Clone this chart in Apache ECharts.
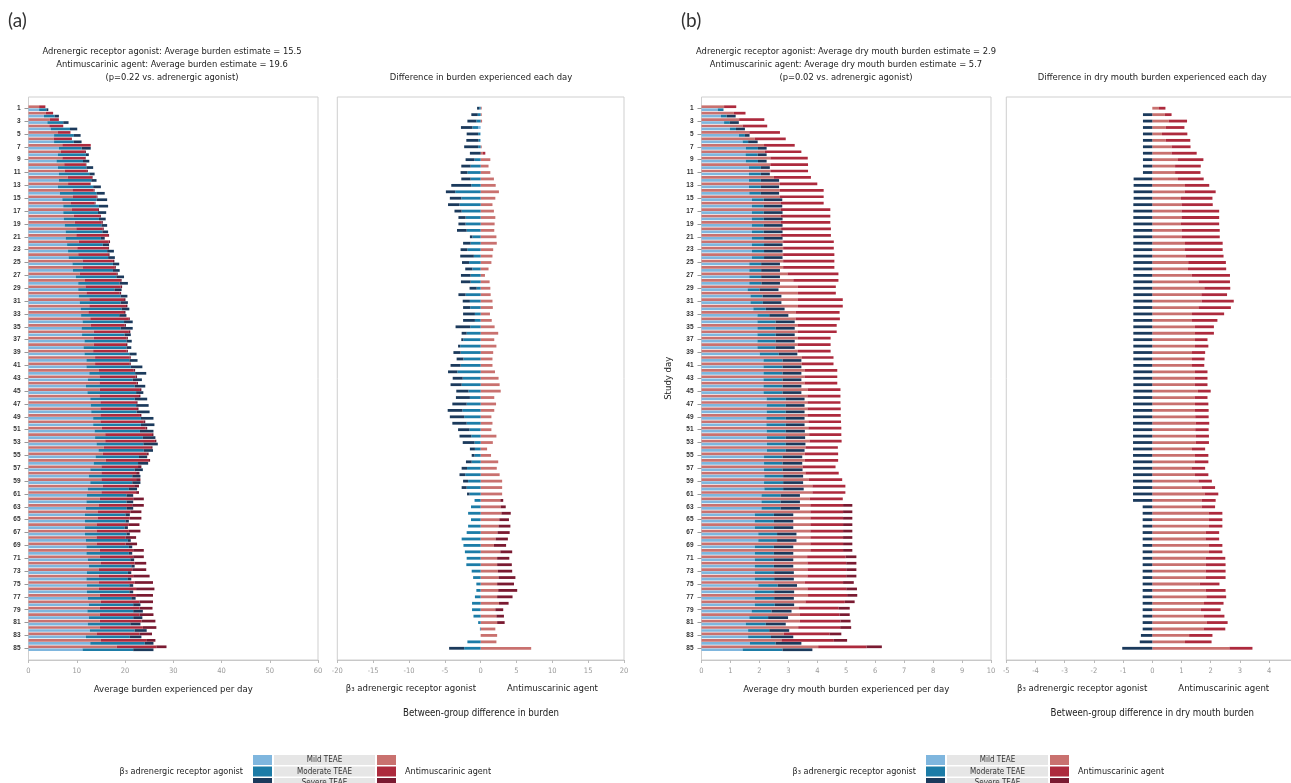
<!DOCTYPE html>
<html>
<head>
<meta charset="utf-8">
<script src="https://cdn.jsdelivr.net/npm/echarts@6/dist/echarts.min.js"></script>
<style>
html, body { margin: 0; padding: 0; background: #fff; }
#main { width: 1291px; height: 783px; }
</style>
</head>
<body>
<div id="main"></div>
<script type="text/javascript">
// study days (y categories)
var days = ['1','2','3','4','5','6','7','8','9','10','11','12','13','14','15','16','17','18','19','20',
  '21','22','23','24','25','26','27','28','29','30','31','32','33','34','35','36','37','38','39','40',
  '41','42','43','44','45','46','47','48','49','50','51','52','53','54','55','56','57','58','59','60',
  '61','62','63','64','65','66','67','68','69','70','71','72','73','74','75','76','77','78','79','80',
  '81','82','83','84','85'];

// (a) average burden per day - cumulative ends of mild / moderate / severe
var aRedMildEnd = [2.2,3.6,4.4,4.3,6.1,5.2,7.0,6.7,7.0,7.4, 7.5,8.1,8.2,9.1,9.2,8.8,9.0,9.4,9.6,9.9,
  9.9,10.4,10.1,10.3,11.2,11.3,10.6,11.7,11.8,12.0, 12.6,12.6,12.4,12.8,12.9,13.5,13.5,13.5,13.4,13.8,
  13.8,14.6,14.7,14.7,14.8,14.7,14.9,14.9,14.9,14.9, 15.2,15.9,15.9,15.6,15.4,16.0,15.1,15.1,15.1,15.4,
  15.1,14.8,14.6,14.4,14.3,14.1,14.1,14.1,14.1,14.8, 14.8,15.0,14.6,14.6,14.6,14.6,14.8,15.0,14.8,14.8,
  14.8,14.8,14.1,15.0,18.3];
var aRedModEnd = [3.5,5.1,6.3,7.2,8.7,9.0,12.9,11.7,11.8,11.9, 12.1,13.2,12.8,13.5,14.1,13.7,14.4,14.8,15.1,15.4,
  16.5,16.6,16.5,16.5,17.5,17.9,18.2,19.0,19.1,18.9, 19.8,20.2,19.8,20.8,19.9,20.8,20.3,20.2,20.3,20.9,
  20.9,21.8,22.2,22.4,23.1,22.9,22.3,22.5,23.1,23.9, 24.3,25.6,26.2,25.4,24.4,24.8,22.7,22.3,22.3,21.9,
  22.3,21.7,21.5,21.1,21.0,20.8,20.8,20.1,20.1,21.7, 21.7,22.0,21.5,21.7,22.0,22.3,22.3,23.0,23.0,23.0,
  23.4,23.7,23.0,24.4,26.5];
var aRedSevEnd = [3.5,5.1,6.3,7.2,8.7,9.0,12.9,11.9,11.9,12.0, 12.3,13.3,12.9,13.7,14.3,13.9,14.6,15.0,15.4,15.6,
  16.7,16.9,16.7,16.8,17.8,18.1,18.5,19.3,19.4,19.2, 20.1,20.5,20.1,21.0,20.2,21.1,20.6,20.5,20.6,21.2,
  21.2,22.1,22.5,22.7,23.4,23.2,22.6,22.8,23.4,24.2, 24.6,25.9,26.5,25.7,24.9,25.2,23.4,23.0,23.2,22.9,
  22.9,23.9,23.9,23.4,23.4,23.0,23.2,22.3,22.5,23.9, 23.9,24.4,24.4,25.1,25.8,26.1,25.8,25.8,25.7,25.9,
  26.3,26.5,25.6,26.3,28.6];
var aBlueMildEnd = [2.2,3.2,3.9,4.6,5.3,5.3,6.3,6.1,5.8,6.1, 6.3,6.3,6.1,6.5,7.0,7.2,7.2,7.3,7.5,7.7,
  7.7,8.0,8.2,8.3,9.1,9.2,9.8,10.3,10.3,10.4, 10.6,10.8,10.9,11.2,11.0,11.1,11.6,11.4,11.6,12.0,
  12.0,12.6,12.3,11.9,12.2,12.8,12.9,13.0,13.4,13.4, 13.7,13.8,14.1,14.5,13.9,13.5,12.8,12.5,12.8,12.3,
  12.1,12.0,11.9,11.7,11.7,11.7,11.7,11.9,12.0,12.0, 12.3,12.5,12.1,12.0,12.1,12.1,12.3,12.5,12.2,12.5,
  12.3,12.7,11.9,12.8,11.2];
var aBlueModEnd = [3.7,5.4,7.2,8.6,9.4,9.4,11.0,11.9,11.3,12.0, 12.6,13.0,13.4,14.1,14.1,14.6,14.4,14.6,15.1,15.3,
  15.0,15.4,16.3,16.5,17.5,17.5,18.2,18.9,17.8,19.1, 19.1,19.3,18.8,19.8,19.1,19.9,20.3,20.3,20.9,20.9,
  21.2,22.1,21.6,22.0,22.3,22.0,22.3,22.4,23.3,23.3, 23.1,23.7,23.8,23.9,22.9,22.7,22.0,21.5,21.5,20.8,
  20.3,20.3,20.3,20.1,20.1,19.9,20.3,20.6,20.8,20.8, 21.1,21.3,20.6,20.6,20.9,20.9,21.3,21.7,21.7,21.7,
  21.1,22.0,21.0,24.1,21.7];
var aBlueSevEnd = [4.1,6.3,8.3,10.1,10.8,11.0,12.9,12.5,12.6,13.4, 13.7,14.1,15.0,15.8,16.3,16.5,16.1,16.0,16.3,16.5,
  15.8,16.7,17.7,17.9,18.8,18.9,19.8,20.6,19.3,20.5, 20.6,20.9,20.3,21.6,21.6,21.2,21.4,21.3,22.4,22.6,
  23.6,24.4,23.5,24.2,23.8,24.6,24.9,25.1,25.9,26.1, 25.9,26.3,26.8,25.8,24.6,24.8,23.7,23.2,23.2,22.5,
  21.7,21.7,21.7,21.0,20.8,20.6,21.0,21.2,21.5,21.5, 21.9,22.0,21.3,21.3,21.7,21.7,22.2,23.2,23.7,23.6,
  23.2,24.5,23.4,25.9,25.9];

// (a) between-group difference (antimuscarinic minus beta3), per severity
var aDiffMild = [0.15,0.15,0.2,-0.35,-0.05,-0.05,0.15,0.3,1.35,1.1, 1.35,1.85,2.1,2.55,2.05,1.65,1.85,2.05,1.95,1.9,
  2.2,2.25,1.75,1.65,1.5,1.1,0.6,1.25,1.35,1.4, 1.65,1.7,1.3,1.55,1.95,2.45,1.9,2.2,1.75,1.65,
  1.65,2.0,2.5,2.65,2.8,1.9,2.15,1.9,1.5,1.65, 1.5,2.2,1.7,0.9,1.45,2.45,2.25,2.65,3.0,3.0,
  3.0,2.75,2.8,2.9,2.6,2.5,2.35,2.1,1.85,2.75, 2.3,2.3,2.4,2.5,2.3,2.45,2.3,2.55,2.05,2.2,
  2.3,2.05,2.3,2.2,7.05];
var aDiffMod = [-0.2,-0.4,-0.6,-0.8,-0.3,-0.25,-0.35,0.35,-0.85,-1.4, -1.85,-1.4,-1.3,-3.55,-2.7,-2.95,-2.65,-2.1,-2.1,-1.95,
  -1.15,-1.4,-1.85,-0.95,-1.6,-1.15,-1.4,-1.4,-0.55,-2.1, -1.5,-1.45,-0.8,-0.8,-1.45,-1.95,-2.4,-2.85,-2.8,-2.4,
  -2.8,-3.25,-2.5,-2.65,-1.7,-1.5,-1.95,-2.55,-2.3,-1.95, -1.55,-1.3,-0.85,-0.8,-0.85,-1.25,-1.9,-2.15,-1.75,-1.95,
  -1.55,-0.85,-1.35,-1.75,-1.35,-1.75,-1.95,-2.65,-2.4,-2.2, -1.95,-2.0,-1.25,-1.05,-0.6,-0.6,-0.8,-1.2,-1.2,-1.0,
  -0.35,-0.1,0,-1.85,-2.3];
var aDiffSev = [-0.3,-0.9,-1.25,-1.6,-1.6,-1.7,-1.95,-1.5,-1.25,-1.3, -0.95,-1.3,-2.8,-1.3,-1.6,-1.6,-1.0,-1.0,-1.0,-1.35,
  -0.35,-1.05,-0.95,-1.9,-1.0,-1.0,-1.35,-1.35,-1.0,-1.0, -1.0,-1.0,-1.65,-1.65,-2.05,-0.7,-0.3,-0.3,-1.0,-0.95,
  -1.4,-1.3,-1.4,-1.55,-1.7,-1.95,-2.0,-2.05,-2.0,-2.0, -1.6,-1.65,-1.65,-0.7,-0.4,-0.8,-0.75,-0.8,-0.7,-0.7,
  -0.35,0.4,0.7,1.3,1.35,1.65,1.7,1.7,1.7,1.65, 1.7,2.05,2.0,2.35,2.35,2.65,2.15,1.35,1.1,1.05,
  1.05,0,0,0,-2.1];

// (b) average dry mouth burden per day - cumulative ends
var bRedMildEnd = [0.78,1.12,1.3,1.42,1.65,1.84,2.16,2.19,2.38,2.38, 2.38,2.5,2.71,2.71,2.71,2.73,2.73,2.73,2.73,2.75,
  2.75,2.82,2.82,2.82,2.82,2.82,2.97,3.17,3.33,3.33, 3.33,3.33,3.25,3.25,3.33,3.33,3.33,3.33,3.33,3.47,
  3.47,3.56,3.56,3.56,3.67,3.66,3.66,3.66,3.66,3.69, 3.69,3.72,3.73,3.59,3.57,3.57,3.49,3.59,3.71,3.83,
  3.83,3.74,3.76,3.76,3.76,3.76,3.76,3.76,3.76,3.76, 3.65,3.66,3.66,3.66,3.57,3.66,3.68,3.59,3.37,3.4,
  3.4,3.34,2.84,2.76,4.03];
var bRedModEnd = [1.2,1.52,2.17,2.27,2.71,2.91,3.22,3.45,3.67,3.68, 3.68,3.78,4.0,4.22,4.22,4.22,4.45,4.45,4.45,4.47,
  4.47,4.57,4.57,4.59,4.59,4.59,4.73,4.73,4.64,4.64, 4.88,4.88,4.77,4.78,4.67,4.67,4.46,4.46,4.46,4.56,
  4.56,4.69,4.69,4.69,4.8,4.8,4.8,4.81,4.81,4.82, 4.83,4.83,4.84,4.71,4.72,4.72,4.63,4.74,4.86,4.97,
  4.97,4.88,4.89,4.89,4.89,4.89,4.89,4.89,4.89,4.89, 4.98,5.0,5.0,5.0,4.89,5.0,5.03,4.95,4.74,4.77,
  4.8,4.79,4.43,4.57,5.7];
var bRedSevEnd = [1.2,1.52,2.17,2.27,2.71,2.91,3.22,3.45,3.67,3.68, 3.68,3.78,4.0,4.22,4.22,4.22,4.45,4.45,4.45,4.47,
  4.47,4.57,4.57,4.59,4.59,4.59,4.73,4.73,4.64,4.64, 4.88,4.88,4.77,4.78,4.67,4.67,4.46,4.46,4.46,4.56,
  4.56,4.69,4.69,4.69,4.8,4.8,4.8,4.81,4.81,4.82, 4.83,4.83,4.84,4.71,4.72,4.72,4.63,4.74,4.86,4.97,
  4.97,4.88,5.21,5.21,5.21,5.21,5.21,5.21,5.21,5.21, 5.35,5.35,5.35,5.35,5.26,5.37,5.38,5.29,5.12,5.12,
  5.15,5.17,4.83,5.03,6.23];
var bBlueMildEnd = [0.56,0.67,0.78,0.98,1.29,1.42,1.53,1.52,1.53,1.64, 1.64,1.64,1.64,1.65,1.74,1.74,1.74,1.74,1.74,1.74,
  1.74,1.74,1.74,1.74,1.65,1.65,1.65,1.65,1.59,1.69, 1.69,1.79,1.93,1.93,1.93,1.93,1.93,1.93,2.01,2.14,
  2.14,2.14,2.14,2.14,2.14,2.25,2.25,2.25,2.24,2.24, 2.25,2.26,2.26,2.26,2.16,2.16,2.16,2.17,2.16,2.17,
  2.07,2.07,2.07,1.84,1.84,1.84,1.96,1.96,1.84,1.84, 1.84,1.84,1.84,1.84,1.96,1.84,1.84,1.84,1.73,1.65,
  1.53,1.61,1.61,1.67,1.42];
var bBlueModEnd = [0.76,0.87,0.98,1.19,1.5,1.61,1.95,1.94,1.95,2.05, 2.05,2.05,2.05,2.05,2.15,2.15,2.15,2.15,2.15,2.15,
  2.16,2.16,2.16,2.16,2.06,2.06,2.06,2.07,2.0,2.11, 2.12,2.22,2.34,2.56,2.56,2.56,2.56,2.56,2.67,2.8,
  2.8,2.8,2.8,2.8,2.8,2.91,2.91,2.91,2.91,2.91, 2.91,2.91,2.91,2.91,2.8,2.8,2.8,2.82,2.82,2.82,
  2.73,2.73,2.73,2.5,2.5,2.5,2.61,2.61,2.5,2.5, 2.5,2.5,2.51,2.51,2.63,2.51,2.51,2.53,2.42,2.3,
  2.22,2.34,2.4,2.56,2.8];
var bBlueSevEnd = [0.76,1.18,1.29,1.5,1.66,1.94,2.25,2.25,2.25,2.36, 2.36,2.68,2.68,2.68,2.79,2.79,2.8,2.8,2.8,2.8,
  2.8,2.8,2.8,2.8,2.71,2.71,2.71,2.71,2.66,2.76, 2.76,2.87,3.0,3.22,3.22,3.22,3.22,3.22,3.31,3.45,
  3.45,3.45,3.45,3.45,3.45,3.56,3.56,3.56,3.56,3.56, 3.57,3.58,3.59,3.56,3.48,3.48,3.49,3.51,3.51,3.53,
  3.4,3.4,3.4,3.17,3.17,3.17,3.28,3.28,3.17,3.17, 3.17,3.17,3.19,3.19,3.3,3.2,3.19,3.2,3.11,2.99,
  2.91,3.03,3.17,3.45,3.83];

// (b) between-group difference in dry mouth burden
var bDiffMild = [0.23,0.43,0.56,0.46,0.33,0.46,0.66,0.66,0.88,0.78, 0.78,0.88,1.12,1.11,0.98,1.0,1.0,1.0,0.98,1.0,
  1.0,1.12,1.12,1.14,1.23,1.22,1.35,1.58,1.78,1.68, 1.69,1.58,1.36,1.36,1.46,1.46,1.46,1.46,1.36,1.36,
  1.36,1.46,1.45,1.45,1.56,1.45,1.46,1.46,1.47,1.49, 1.47,1.49,1.49,1.36,1.46,1.46,1.36,1.46,1.58,1.69,
  1.8,1.69,1.69,1.94,1.94,1.94,1.83,1.82,1.94,1.94, 1.83,1.83,1.83,1.83,1.63,1.83,1.85,1.77,1.66,1.77,
  1.87,1.77,1.26,1.12,2.64];
var bDiffMod = [0.22,0.23,0.63,0.64,0.87,0.84,0.65,0.86,0.87,0.88, 0.87,0.88,0.83,1.06,1.08,1.07,1.29,1.29,1.31,1.31,
  1.31,1.29,1.29,1.3,1.29,1.31,1.31,1.08,0.89,0.88, 1.1,1.11,1.1,0.87,0.65,0.65,0.43,0.46,0.45,0.43,
  0.42,0.43,0.44,0.44,0.44,0.44,0.46,0.47,0.46,0.46, 0.46,0.45,0.45,0.45,0.46,0.46,0.45,0.46,0.46,0.46,
  0.46,0.48,0.46,0.46,0.46,0.46,0.46,0.47,0.46,0.46, 0.67,0.68,0.68,0.68,0.67,0.68,0.68,0.67,0.68,0.7,
  0.71,0.73,0.8,0.91,0.79];
var bDiffSev = [0,-0.32,-0.32,-0.32,-0.32,-0.32,-0.32,-0.32,-0.32,-0.32, -0.32,-0.64,-0.64,-0.64,-0.64,-0.65,-0.65,-0.65,-0.65,-0.65,
  -0.65,-0.65,-0.65,-0.65,-0.65,-0.65,-0.65,-0.65,-0.65,-0.65, -0.65,-0.65,-0.65,-0.65,-0.65,-0.65,-0.65,-0.65,-0.65,-0.65,
  -0.65,-0.65,-0.65,-0.65,-0.65,-0.65,-0.66,-0.66,-0.66,-0.66, -0.66,-0.66,-0.66,-0.66,-0.66,-0.66,-0.66,-0.66,-0.66,-0.66,
  -0.66,-0.66,-0.33,-0.33,-0.33,-0.33,-0.33,-0.33,-0.33,-0.33, -0.33,-0.33,-0.33,-0.33,-0.33,-0.33,-0.33,-0.33,-0.33,-0.33,
  -0.33,-0.33,-0.39,-0.43,-1.03];

var BLUE = ['#7fb6de', '#1c7ca7', '#1b3a5c'];
var RED = ['#c9716f', '#ad2a3d', '#7a1a31'];
var FONT = '"DejaVu Sans Condensed", "Liberation Sans", sans-serif';

// turn cumulative ends into stack segments
function segs(m, mo, s) {
    return [
        m.map(function (v) { return +v.toFixed(2); }),
        mo.map(function (v, i) { return +(v - m[i]).toFixed(2); }),
        s.map(function (v, i) { return +(v - mo[i]).toFixed(2); })
    ];
}

function stackBars(gi, stack, vals, colors) {
    return vals.map(function (d, k) {
        return {
            type: 'bar', xAxisIndex: gi, yAxisIndex: gi, stack: stack,
            data: d, barWidth: 2.7, barGap: '10%',
            itemStyle: { color: colors[k] }, silent: true
        };
    });
}

function diffBars(gi, stack, vals) {
    return vals.map(function (d, k) {
        return {
            type: 'bar', xAxisIndex: gi, yAxisIndex: gi, stack: stack, barWidth: 2.8,
            data: d.map(function (v) {
                return { value: v, itemStyle: { color: v >= 0 ? RED[k] : BLUE[k] } };
            }),
            silent: true
        };
    });
}

var series = [].concat(
    stackBars(0, 'aRed', segs(aRedMildEnd, aRedModEnd, aRedSevEnd), RED),
    stackBars(0, 'aBlue', segs(aBlueMildEnd, aBlueModEnd, aBlueSevEnd), BLUE),
    diffBars(1, 'aDiff', [aDiffMild, aDiffMod, aDiffSev]),
    stackBars(2, 'bRed', segs(bRedMildEnd, bRedModEnd, bRedSevEnd), RED),
    stackBars(2, 'bBlue', segs(bBlueMildEnd, bBlueModEnd, bBlueSevEnd), BLUE),
    diffBars(3, 'bDiff', [bDiffMild, bDiffMod, bDiffSev])
);

// panel boxes: data area sits inside a slightly taller frame
var boxes = [
    { left: 28.5, width: 289.5 },
    { left: 337.3, width: 286.7 },
    { left: 701.5, width: 289.5 },
    { left: 1006.3, width: 292 }   // runs past the right edge, as in the original
];
var grids = [];
boxes.forEach(function (b) {
    grids.push({ left: b.left, width: b.width, top: 105, height: 546.5, show: false,
        outerBoundsMode: 'none', containLabel: false });
});
boxes.forEach(function (b) {
    grids.push({ left: b.left, width: b.width, top: 97, height: 563, show: true,
        borderColor: '#cfcfcf', borderWidth: 1, backgroundColor: 'transparent',
        outerBoundsMode: 'none', containLabel: false });
});

var ranges = [[0, 60, 10], [-20, 20, 5], [0, 10, 1], [-5, 5, 1]];
var xAxes = [];
ranges.forEach(function (r, i) {
    xAxes.push({ type: 'value', gridIndex: i, min: r[0], max: r[1], show: false });
});
var xNames = ['Average burden experienced per day', '', 'Average dry mouth burden experienced per day', ''];
ranges.forEach(function (r, i) {
    xAxes.push({
        type: 'value', gridIndex: 4 + i, min: r[0], max: r[1], interval: r[2],
        name: xNames[i], nameLocation: 'middle', nameGap: 25,
        nameTextStyle: { fontFamily: FONT, fontSize: 9.5, color: '#222' },
        axisLine: { lineStyle: { color: '#c8c8c8' } },
        axisTick: { show: true, length: 3, lineStyle: { color: '#bbb' } },
        axisLabel: { fontSize: 7.5, color: '#999', margin: 7, fontFamily: FONT },
        splitLine: { show: false }
    });
});

var yAxes = [];
[0, 1, 2, 3].forEach(function (i) {
    var main = (i === 0 || i === 2);
    yAxes.push({
        type: 'category', gridIndex: i, data: days, inverse: true,
        show: main,
        name: i === 2 ? 'Study day' : '',
        nameLocation: 'middle', nameGap: 28, nameRotate: 90,
        nameTextStyle: { fontFamily: FONT, fontSize: 9.5, color: '#222' },
        axisLine: { show: false },
        axisTick: { show: true, interval: 1, alignWithLabel: true, length: 4, lineStyle: { color: '#999' } },
        axisLabel: { interval: 1, fontSize: 6.5, fontWeight: 'bold', color: '#333', margin: 8 },
        splitLine: { show: false }
    });
});
[4, 5, 6, 7].forEach(function (i) {
    yAxes.push({ type: 'value', gridIndex: i, min: 0, max: 1, show: false });
});

function txt(x, y, s, size, al, extra) {
    var st = { text: s, fill: '#222', fontSize: size, fontFamily: FONT,
        align: al, textAlign: al, verticalAlign: 'middle', textVerticalAlign: 'middle' };
    if (extra) { for (var k in extra) { st[k] = extra[k]; } }
    return { type: 'text', x: x, y: y, silent: true, style: st };
}

var graphics = [];
function panelText(dx, letter, lines, diffTitle, zeroX, diffName, center) {
    graphics.push(txt(8 + dx, 21, letter, 19, 'left', { fontFamily: 'Lato, sans-serif', fill: '#333' }));
    lines.forEach(function (l, i) { graphics.push(txt(center, 51.5 + 13 * i, l, 9.3, 'center')); });
    graphics.push(txt(zeroX, 77.5, diffTitle, 9.4, 'center'));
    graphics.push(txt(zeroX - 5, 689, 'β₃ adrenergic receptor agonist', 9.5, 'right'));
    graphics.push(txt(zeroX + 26, 689, 'Antimuscarinic agent', 9.5, 'left'));
    graphics.push(txt(zeroX, 713, diffName, 9.6, 'center'));
    // legend
    var labs = ['Mild TEAE', 'Moderate TEAE', 'Severe TEAE'];
    for (var k = 0; k < 3; k++) {
        var y = 755 + 11.5 * k;
        graphics.push({ type: 'rect', silent: true, shape: { x: 253 + dx, y: y, width: 19, height: 10 }, style: { fill: BLUE[k] } });
        graphics.push({ type: 'rect', silent: true, shape: { x: 274 + dx, y: y, width: 101, height: 10 }, style: { fill: '#e6e6e6' } });
        graphics.push({ type: 'rect', silent: true, shape: { x: 377 + dx, y: y, width: 19, height: 10 }, style: { fill: RED[k] } });
        graphics.push(txt(324.5 + dx, y + 5, labs[k], 8, 'center', { fill: '#333' }));
    }
    graphics.push(txt(243 + dx, 772, 'β₃ adrenergic receptor agonist', 9, 'right'));
    graphics.push(txt(405 + dx, 772, 'Antimuscarinic agent', 9, 'left'));
}
panelText(0, '(a)', [
    'Adrenergic receptor agonist: Average burden estimate = 15.5',
    'Antimuscarinic agent: Average burden estimate = 19.6',
    '(p=0.22 vs. adrenergic agonist)'
], 'Difference in burden experienced each day', 481, 'Between-group difference in burden', 172);
panelText(673, '(b)', [
    'Adrenergic receptor agonist: Average dry mouth burden estimate = 2.9',
    'Antimuscarinic agent: Average dry mouth burden estimate = 5.7',
    '(p=0.02 vs. adrenergic agonist)'
], 'Difference in dry mouth burden experienced each day', 1152.3, 'Between-group difference in dry mouth burden', 846);

var option = {
    animation: false,
    backgroundColor: '#fff',
    grid: grids,
    xAxis: xAxes,
    yAxis: yAxes,
    series: series,
    graphic: graphics
};

var myChart = echarts.init(document.getElementById('main'));
myChart.setOption(option);
</script>
</body>
</html>
